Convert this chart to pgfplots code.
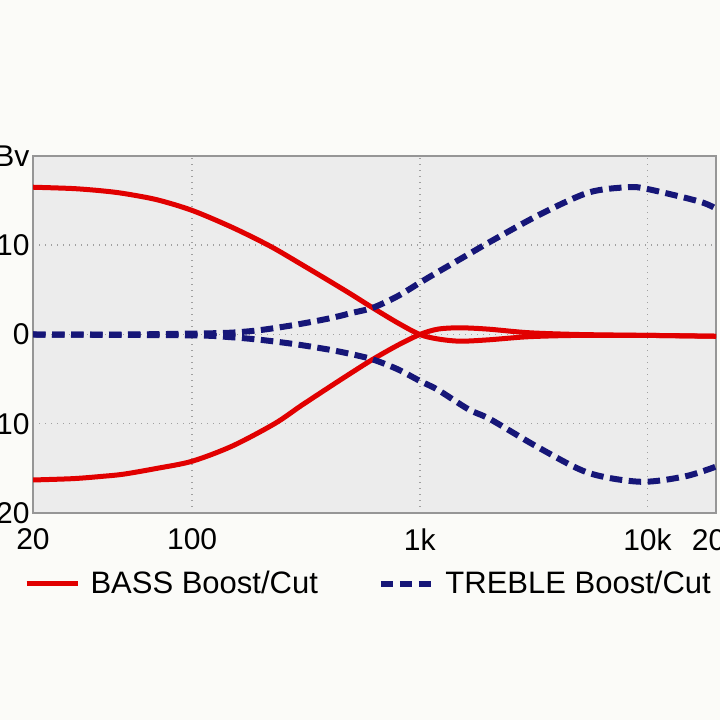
\documentclass[border=0pt]{standalone}
\usepackage{fontspec}
\setmainfont{Liberation Sans}
\usepackage{pgfplots}
\pgfplotsset{compat=1.18}
\definecolor{pagebg}{RGB}{251,251,248}
\definecolor{plotbg}{RGB}{236,236,236}
\definecolor{framegray}{RGB}{150,150,150}
\definecolor{gridgray}{RGB}{160,160,160}
\definecolor{bassred}{RGB}{225,0,0}
\definecolor{treblue}{RGB}{22,22,120}
\begin{document}
\begin{tikzpicture}
\useasboundingbox (0,0) rectangle (288pt,288pt);
\fill[pagebg] (0,0) rectangle (288pt,288pt);
\clip (0,0) rectangle (288pt,288pt);
\begin{axis}[
  at={(13.2pt,82.8pt)}, anchor=south west,
  scale only axis, width=273.2pt, height=142.8pt,
  xmode=log, xmin=20, xmax=20000, ymin=-20, ymax=20,
  axis background/.style={fill=plotbg},
  axis line style={framegray, line width=0.6pt},
  xtick={20,100,1000,10000,20000},
  xticklabels={20,100,1k,10k,20k},
  minor xtick={},
  ytick={-20,-10,0,10,20},
  yticklabels={−20,−10,0,10,dBv},
  major tick length=0pt,
  grid=major,
  major grid style={gridgray, dotted, line width=0.6pt},
  /pgf/number format/assume math mode=true,
  tick label style={font=\fontsize{12}{14}\selectfont, text=black},
  xticklabel style={inner sep=0pt, anchor=north, yshift=-6pt},
  yticklabel style={inner sep=0pt, anchor=east, xshift=-1.2pt},
  legend columns=2,
  legend style={at={(axis description cs:0,0)}, anchor=west,
    xshift=-6.8pt, yshift=-28.4pt, draw=none, fill=none,
    font=\fontsize{12.4}{14}\selectfont,
    /tikz/every even column/.append style={column sep=22pt}},
  legend image code/.code={\draw[#1] (0pt,0pt) -- (20.4pt,0pt); \path (22.6pt,0pt);},
]
\addplot[bassred, line width=2pt, smooth] coordinates {
(20,16.5) (30,16.35) (40,16.1) (50,15.8) (70,15.1) (100,13.9) (150,12.0)
(220,9.9) (300,7.9) (400,6.0) (500,4.5) (620,3.0) (800,1.3) (1000,0)
(1200,-0.5) (1500,-0.75) (2000,-0.6) (3000,-0.25) (5000,-0.1) (10000,-0.1) (20000,-0.2)};
\addlegendentry{BASS Boost/Cut}
\addplot[treblue, line width=2.4pt, dash pattern=on 5pt off 2.6pt, smooth] coordinates {
(20,0) (50,0) (100,0.1) (147,0.2) (200,0.5) (286,1.1) (400,1.8) (500,2.4)
(622,3.0) (800,4.3) (1000,5.8) (1200,7.0) (1640,9.0) (2040,10.4) (3340,13.4)
(5500,15.9) (8200,16.5) (10000,16.3) (16900,14.9) (20000,14.1)};
\addlegendentry{TREBLE Boost/Cut}
\addplot[bassred, line width=2pt, smooth, forget plot] coordinates {
(20,-16.3) (30,-16.15) (40,-15.9) (50,-15.65) (70,-15.0) (100,-14.2) (150,-12.5) (230,-10.0)
(300,-8.0) (400,-5.9) (500,-4.3) (620,-2.8) (800,-1.2) (1000,0)
(1200,0.6) (1500,0.75) (2000,0.6) (3000,0.2) (5000,0.0) (10000,-0.1) (20000,-0.2)};
\addplot[treblue, line width=2.4pt, dash pattern=on 5pt off 2.6pt, smooth, forget plot] coordinates {
(20,0) (100,-0.1) (147,-0.3) (200,-0.6) (286,-1.1) (400,-1.7) (500,-2.2)
(622,-2.8) (800,-3.9) (1000,-5.2) (1200,-6.2) (1640,-8.4) (2040,-9.5) (3340,-12.7)
(5500,-15.5) (9300,-16.5) (14600,-15.9) (20000,-14.8)};
\end{axis}
\end{tikzpicture}
\end{document}
